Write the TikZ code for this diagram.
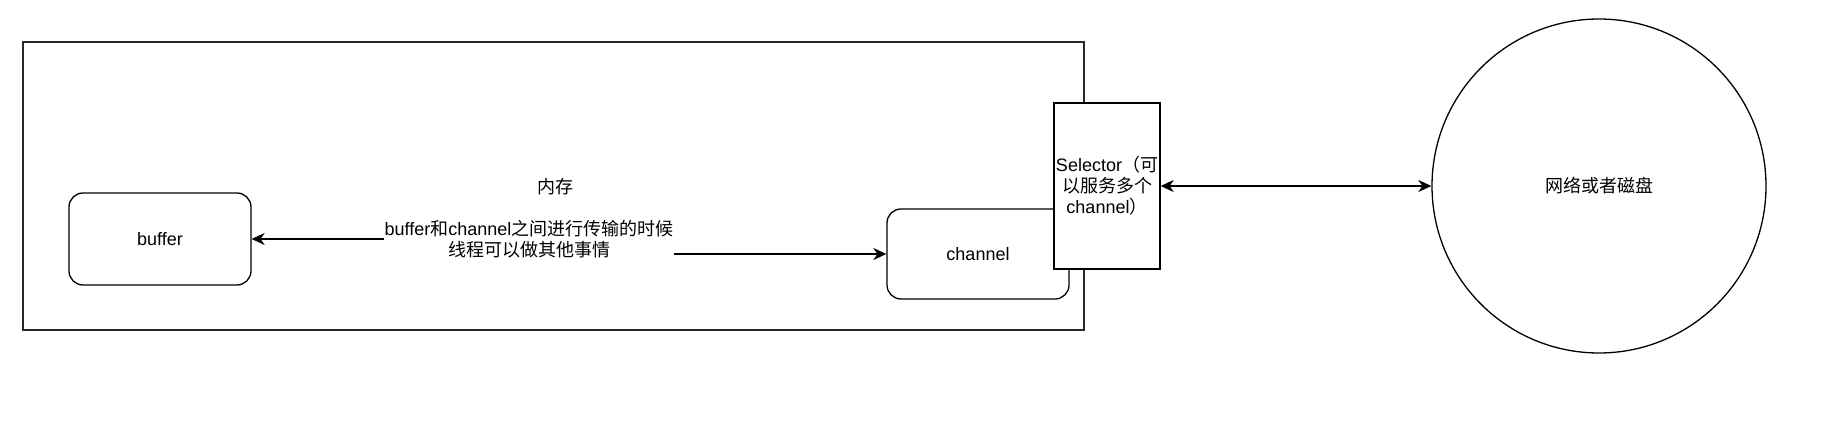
\documentclass[tikz,border=0pt]{standalone}
\usepackage{fontspec}
\setmainfont{Liberation Sans}
\newfontfamily\cjk{Noto Sans CJK SC}
\usetikzlibrary{arrows.meta}
\tikzset{
  txt/.style={font=\fontsize{18}{21}\selectfont, align=center, inner sep=0pt},
  rbox/.style={draw=black, line width=1.3pt, rounded corners=14pt, fill=white, minimum width=182pt, inner sep=0pt},
  sbox/.style={draw=black, line width=1.3pt, fill=white, inner sep=0pt},
  conn/.style={line width=1.3pt, -{Stealth[length=13pt,width=12pt,inset=4pt]}},
  dconn/.style={line width=1.3pt, {Stealth[length=13pt,width=12pt,inset=4pt]}-{Stealth[length=13pt,width=12pt,inset=4pt]}}
}
\begin{document}
\begin{tikzpicture}[x=1pt,y=-1pt]
\useasboundingbox (0,0) rectangle (1831,430);
% memory area
\node[draw={rgb,255:red,40;green,40;blue,40}, line width=1.3pt, minimum width=1061pt, minimum height=288pt, inner sep=0pt] (mem) at (553.5,186) {};
\node[txt] (memlab) at (555,187) {\cjk 内存};
% buffer
\node[rbox, txt, minimum width=182pt, minimum height=92pt] (buffer) at (160,239) {buffer};
% channel
\node[rbox, txt, minimum width=182pt, minimum height=90pt] (channel) at (978,254) {channel};
% selector
\node[sbox, txt, minimum width=106pt, minimum height=166pt] (selector) at (1107,186) {Selector{\cjk （可}\\{\cjk 以服务多个}\\channel{\cjk ）}};
% disk / network
\node[draw=black, line width=1.3pt, circle, minimum size=334pt, inner sep=0pt, txt] (disk) at (1599,186) {\cjk 网络或者磁盘};
% edge label
\node[txt] (lab) at (529,239.5) {buffer{\cjk 和}channel{\cjk 之间进行传输的时候}\\{\cjk 线程可以做其他事情}};
% connectors
\draw[conn] (lab.west |- buffer.east) -- (buffer.east);
\draw[conn] (lab.east |- channel.west) -- (channel.west);
\draw[dconn] (selector.east) -- (disk.west);
\end{tikzpicture}
\end{document}
